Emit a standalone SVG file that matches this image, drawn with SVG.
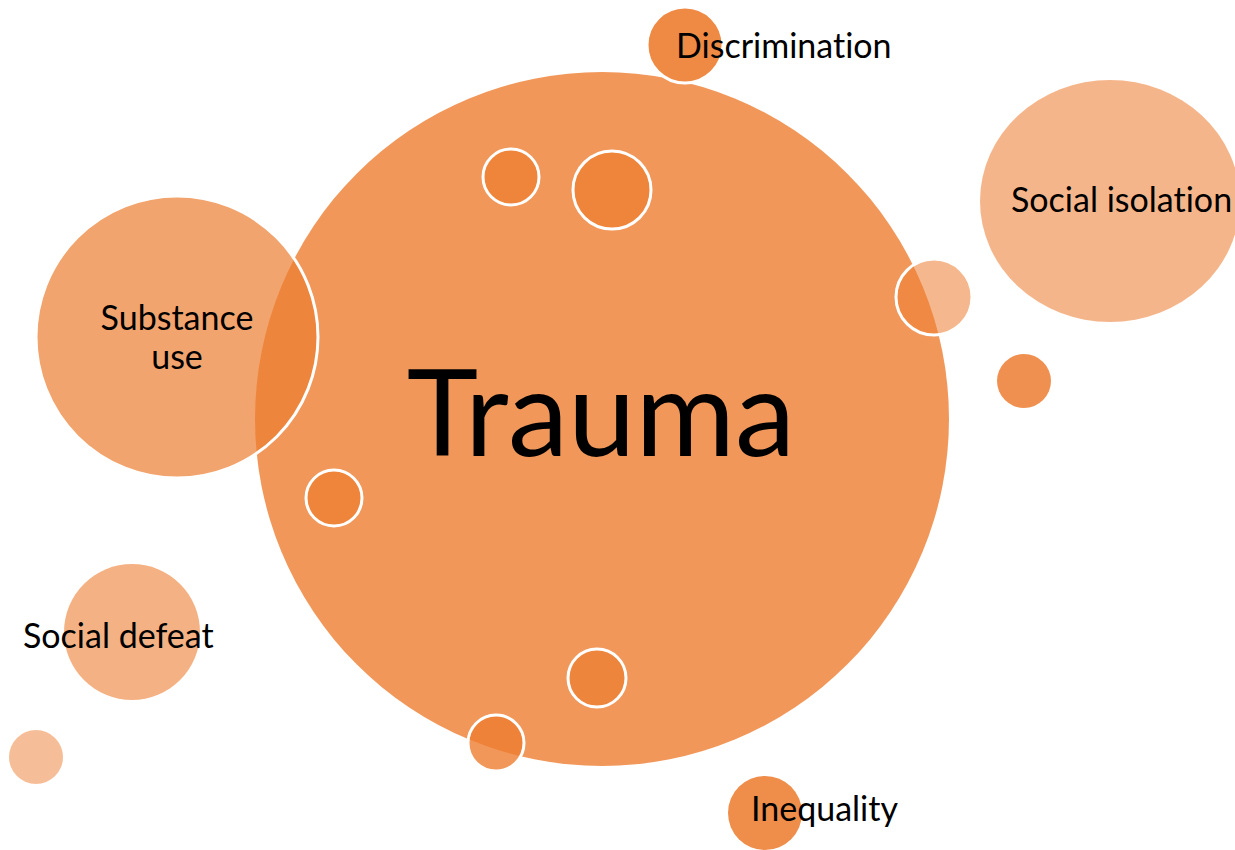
<svg xmlns="http://www.w3.org/2000/svg" width="1235" height="850" viewBox="0 0 1235 850">
  <style>
    .c { fill: #ED7D31; }
    .w { stroke: #FFFFFF; stroke-width: 3; }
    .t { font-family: Lato, "Open Sans", sans-serif; fill: #000000; font-variant-ligatures: none; font-feature-settings: "liga" 0, "dlig" 0; }
    .s { font-size: 34px; }
  </style>
  <rect width="1235" height="850" fill="#FFFFFF"/>

  <g id="trauma">
    <circle class="c" cx="602" cy="419" r="347" fill-opacity="0.8"/>
    <text class="t" x="601" y="456" font-size="121" text-anchor="middle">Trauma</text>
  </g>

  <g id="substance-use">
    <circle class="c w" cx="177" cy="337" r="141" fill-opacity="0.7"/>
    <text class="t s" x="177" y="330" text-anchor="middle">Substance</text>
    <text class="t s" x="177" y="369" text-anchor="middle">use</text>
  </g>

  <g id="dots">
    <circle class="c w" cx="511" cy="177" r="28" fill-opacity="0.75"/>
    <circle class="c w" cx="612" cy="190" r="39" fill-opacity="0.75"/>
    <circle class="c w" cx="934" cy="297" r="38" fill-opacity="0.55"/>
    <circle class="c" cx="1024" cy="381" r="27" fill-opacity="0.85"/>
    <circle class="c w" cx="334" cy="498" r="28" fill-opacity="0.75"/>
    <circle class="c w" cx="597" cy="678" r="29" fill-opacity="0.7"/>
    <circle class="c w" cx="496" cy="743" r="28" fill-opacity="0.8"/>
    <circle class="c" cx="36" cy="757" r="27" fill-opacity="0.5"/>
  </g>

  <g id="discrimination">
    <circle class="c w" cx="685" cy="45" r="38" fill-opacity="0.9"/>
    <text class="t s" x="676" y="58">Discrimination</text>
  </g>

  <g id="social-isolation">
    <ellipse class="c" cx="1110" cy="201" rx="130" ry="121" fill-opacity="0.57"/>
    <text class="t s" x="1011" y="212">Social isolation</text>
  </g>

  <g id="social-defeat">
    <circle class="c" cx="132" cy="632" r="68" fill-opacity="0.6"/>
    <text class="t s" x="23" y="648">Social defeat</text>
  </g>

  <g id="inequality">
    <circle class="c" cx="765" cy="813" r="37" fill-opacity="0.88"/>
    <text class="t s" x="751" y="821">Inequality</text>
  </g>

  <g id="connectors"/>
</svg>
